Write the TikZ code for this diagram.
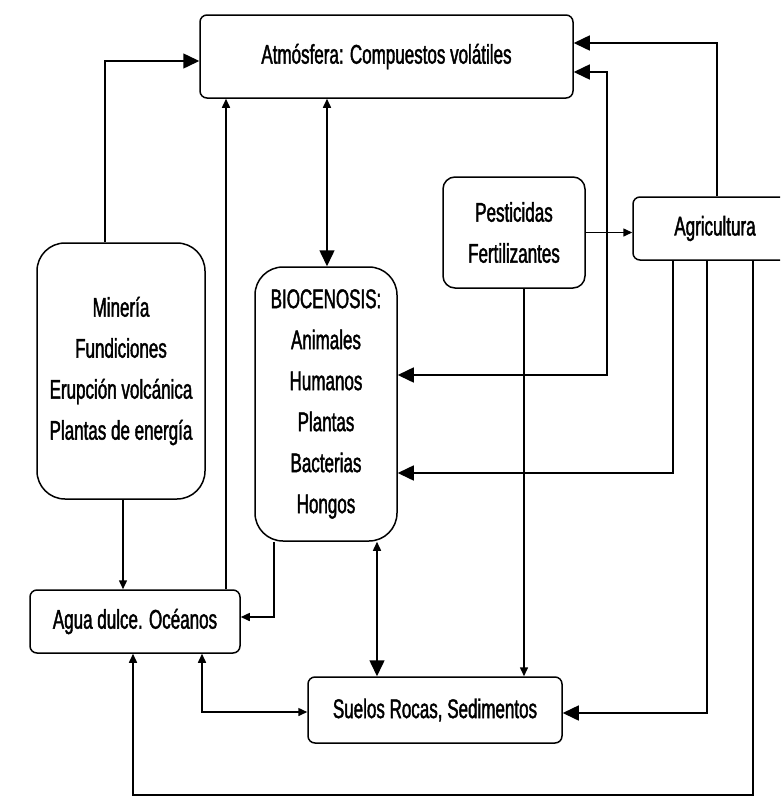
\documentclass[tikz,border=0pt]{standalone}
\usepackage{fontspec}
\setmainfont{Liberation Sans}[FakeStretch=0.63,FakeBold=1.5]
\usetikzlibrary{arrows.meta}
\begin{document}
\begin{tikzpicture}[x=1pt,y=-1pt,
  box/.style={draw,line width=1.5pt,rounded corners=#1,inner sep=0pt,align=center,
    font=\fontsize{27}{41}\selectfont},
  box/.default=7pt,
  link/.style={line width=1.5pt},
  big/.style={-{Triangle[length=16pt,width=15pt]}},
  small/.style={-{Triangle[length=9pt,width=8pt]}},
  bigsm/.style={{Triangle[length=9pt,width=8pt]}-{Triangle[length=16pt,width=15pt]}},
  smsm/.style={{Triangle[length=9pt,width=8pt]}-{Triangle[length=9pt,width=8pt]}},
  bigbig/.style={{Triangle[length=16pt,width=15pt]}-{Triangle[length=16pt,width=15pt]}}]
\clip (0,0) rectangle (780,801);
\fill[white] (0,0) rectangle (780,801);
% boxes
\node[box, minimum width=373pt, minimum height=83pt] (atm) at (386.5,56.5) {Atmósfera: Compuestos volátiles};
\node[box=28pt, minimum width=168pt, minimum height=256pt] (min) at (121,371) {Minería\\Fundiciones\\Erupción volcánica\\Plantas de energía};
\node[box=28pt, minimum width=142pt, minimum height=274pt] (bio) at (326,404) {BIOCENOSIS:\\Animales\\Humanos\\Plantas\\Bacterias\\Hongos};
\node[box=12pt, minimum width=142pt, minimum height=111pt] (pest) at (514,232.5) {Pesticidas\\Fertilizantes};
\node[box, minimum width=164pt, minimum height=63pt] (agr) at (715,228.5) {Agricultura};
\node[box, minimum width=210pt, minimum height=63pt] (agua) at (135,621.5) {Agua dulce. Océanos};
\node[box, minimum width=254pt, minimum height=66pt] (suelos) at (435,710) {Suelos Rocas, Sedimentos};
% helper coordinates
\coordinate (xA) at (105,0);
\coordinate (yA) at (0,61);
\coordinate (xB) at (226,0);
\coordinate (xC) at (327,0);
\coordinate (xD) at (717,0);
\coordinate (yD) at (0,43);
\coordinate (xE) at (607,0);
\coordinate (yE) at (0,72);
\coordinate (yE2) at (0,375);
\coordinate (xF) at (673,0);
\coordinate (yF) at (0,473);
\coordinate (xG) at (707,0);
\coordinate (yG) at (0,713);
\coordinate (xH) at (753,0);
\coordinate (yH) at (0,795);
\coordinate (xH2) at (133,0);
\coordinate (xI) at (524,0);
\coordinate (xJ) at (123,0);
\coordinate (xK) at (274,0);
\coordinate (yK) at (0,617);
\coordinate (xL) at (377,0);
\coordinate (xM) at (202,0);
\coordinate (yM) at (0,712);
% connectors
\draw[link,big] (min.north -| xA) |- (atm.west |- yA);
\draw[link,small] (agua.north -| xB) -- (atm.south -| xB);
\draw[link,bigsm] (atm.south -| xC) -- (bio.north -| xC);
\draw[link,big] (agr.north -| xD) |- (atm.east |- yD);
\draw[link,bigbig] (bio.east |- yE2) -| (xE |- yE) -- (atm.east |- yE);
\draw[link,small] (pest.east) -- (agr.west |- pest.east);
\draw[link,big] (agr.south -| xF) |- (bio.east |- yF);
\draw[link,big] (agr.south -| xG) |- (suelos.east |- yG);
\draw[link,small] (agr.south -| xH) -- (xH |- yH) -| (agua.south -| xH2);
\draw[link,small] (pest.south -| xI) -- (suelos.north -| xI);
\draw[link,small] (min.south -| xJ) -- (agua.north -| xJ);
\draw[link,small] (bio.south -| xK) |- (agua.east |- yK);
\draw[link,bigsm] (bio.south -| xL) -- (suelos.north -| xL);
\draw[link,smsm] (agua.south -| xM) |- (suelos.west |- yM);
\end{tikzpicture}
\end{document}
